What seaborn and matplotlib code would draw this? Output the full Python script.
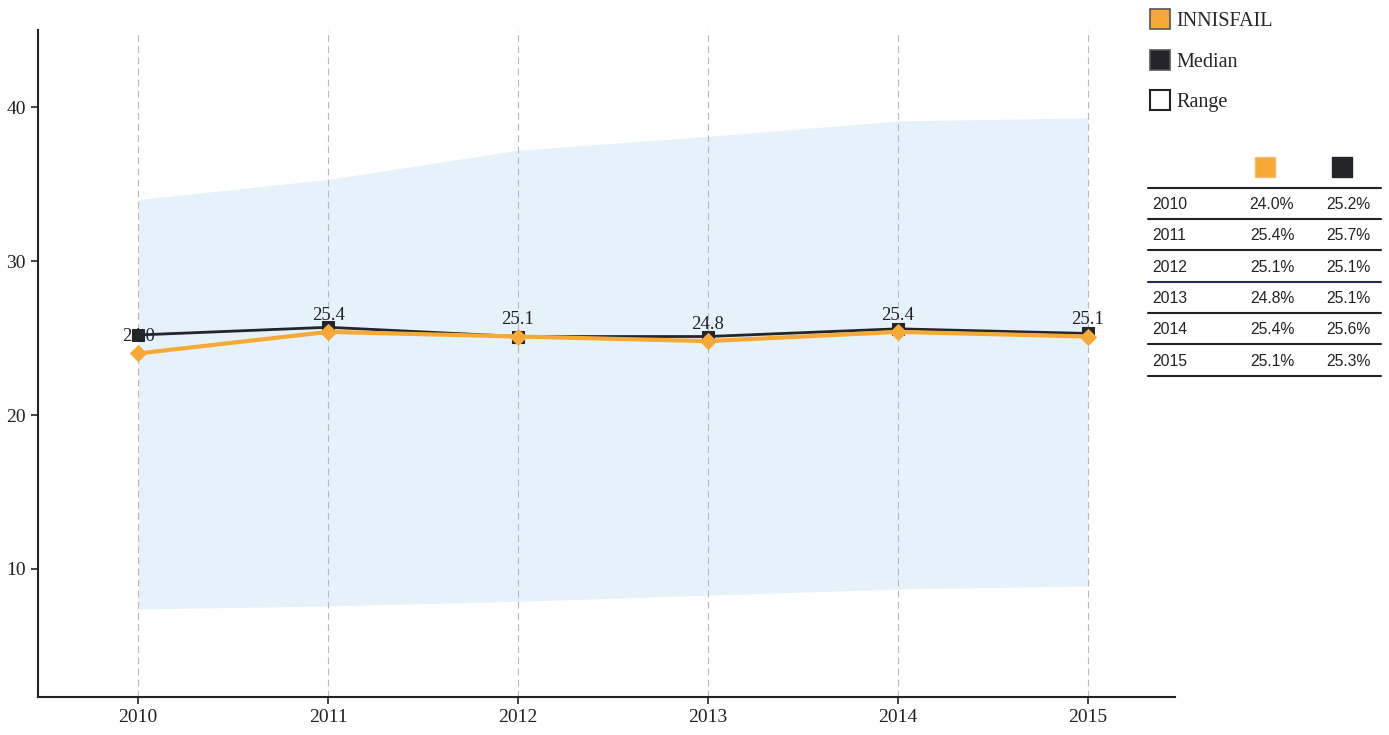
import pandas as pd
import matplotlib.pyplot as plt
import seaborn as sns
from matplotlib.lines import Line2D

# ===============================
# 1. DATOS
# ===============================

years = [2010, 2011, 2012, 2013, 2014, 2015]
innisfail = [24.0, 25.4, 25.1, 24.8, 25.4, 25.1]
median = [25.2, 25.7, 25.1, 25.1, 25.6, 25.3]
range_low = [7.4, 7.6, 7.9, 8.3, 8.7, 8.9]
range_high = [34.0, 35.3, 37.2, 38.1, 39.1, 39.3]
y_ticks = [10, 20, 30, 40]

ORANGE = "#f7a937"
DARK = "#23252b"
BAND = "#e5f2fa"

df = pd.DataFrame({"year": years, "innisfail": innisfail, "median": median})

# ===============================
# 2. FIGURA
# ===============================

sns.set_style("white")
plt.rcParams["font.family"] = ["Liberation Serif", "DejaVu Serif"]

fig = plt.figure(figsize=(13.89, 7.35), dpi=100)
ax = fig.add_axes([0.027, 0.052, 0.819, 0.907])

ax.fill_between(years, range_low, range_high, color=BAND, linewidth=0, zorder=0)

for yr in years:
    ax.axvline(yr, color="#b8b8b8", linestyle=(0, (6, 4)), linewidth=0.8, zorder=0.5)

# etiquetas de valor (detrás de las líneas)
for yr, v in zip(years, innisfail):
    ax.annotate(f"{v:.1f}", (yr, v), xytext=(0, 6), textcoords="offset points",
                ha="center", va="bottom", fontsize=13.5, color="#222222", zorder=1)

sns.lineplot(data=df, x="year", y="median", ax=ax, color=DARK, linewidth=2,
             marker="s", markersize=8, markeredgecolor=DARK, zorder=3)
sns.lineplot(data=df, x="year", y="innisfail", ax=ax, color=ORANGE, linewidth=3,
             marker="D", markersize=8, markeredgecolor=ORANGE, zorder=4)

ax.set_xlim(2009.47, 2015.46)
ax.set_ylim(1.7, 45)
ax.set_xticks(years)
ax.set_yticks(y_ticks)
ax.set_xlabel("")
ax.set_ylabel("")
ax.tick_params(axis="both", labelsize=14, length=5, width=1.2, direction="out",
               left=True, bottom=True, colors="#222222")
for side in ["top", "right"]:
    ax.spines[side].set_visible(False)
for side in ["left", "bottom"]:
    ax.spines[side].set_color("#222222")
    ax.spines[side].set_linewidth(1.5)

# ===============================
# 3. LEYENDA
# ===============================

handles = [
    Line2D([], [], marker="s", linestyle="", markersize=14, markerfacecolor=ORANGE,
           markeredgecolor="#555555", markeredgewidth=1.2),
    Line2D([], [], marker="s", linestyle="", markersize=14, markerfacecolor=DARK,
           markeredgecolor="#555555", markeredgewidth=1.2),
    Line2D([], [], marker="s", linestyle="", markersize=14, markerfacecolor="white",
           markeredgecolor="#222222", markeredgewidth=1.5),
]
fig.legend(handles, ["INNISFAIL", "Median", "Range"], loc="upper left",
           bbox_to_anchor=(0.812, 1.008), frameon=False, fontsize=14.5,
           handletextpad=0.1, labelspacing=1.05, handlelength=1.4)

# ===============================
# 4. TABLA
# ===============================

W, H = 1389, 735


def fx(px):
    return px / W


def fy(py):
    return 1 - py / H


fig.add_artist(Line2D([fx(1265)], [fy(167)], marker="s", markersize=14,
                      markerfacecolor=ORANGE, markeredgecolor="#f0c070"))
fig.add_artist(Line2D([fx(1342)], [fy(167)], marker="s", markersize=14,
                      markerfacecolor=DARK, markeredgecolor=DARK))

line_ys = [188, 219, 250, 282, 313, 344, 376]
for i, ly in enumerate(line_ys):
    col = "#2a2a5a" if i == 3 else "#222222"
    fig.add_artist(Line2D([fx(1148), fx(1381)], [fy(ly), fy(ly)], color=col, linewidth=1.5))

for i, yr in enumerate(years):
    ty = (line_ys[i] + line_ys[i + 1]) / 2 + 1
    fig.text(fx(1152), fy(ty), str(yr), fontsize=11.3, family="Liberation Sans",
             va="center", ha="left", color="#222222")
    fig.text(fx(1272), fy(ty), f"{innisfail[i]:.1f}%", fontsize=11.3,
             family="Liberation Sans", va="center", ha="center", color="#222222")
    fig.text(fx(1348), fy(ty), f"{median[i]:.1f}%", fontsize=11.3,
             family="Liberation Sans", va="center", ha="center", color="#222222")

fig.savefig("out.png", dpi=100)
